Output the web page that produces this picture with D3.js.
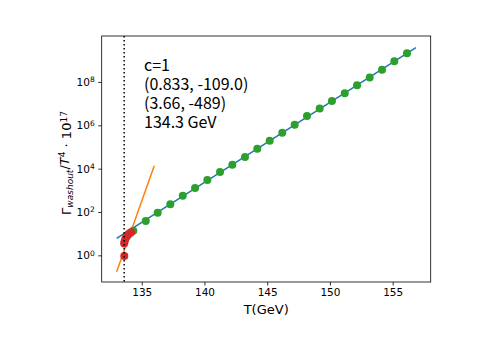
<!DOCTYPE html>
<html>
<head>
<meta charset="utf-8">
<script src="https://cdn.jsdelivr.net/npm/d3@7"></script>
<style>
  body { margin: 0; background: #fff; }
  svg { display: block; }
</style>
</head>
<body>
<div id="chart"></div>
<script>
// Green points: temperature (GeV) and log10 of Gamma/T^4 * 1e17
const greenT = [134.33, 135.32, 136.27, 137.28, 138.27, 139.25, 140.23, 141.24, 142.22, 143.23,
                144.21, 145.20, 146.20, 147.19, 148.17, 149.18, 150.16, 151.18, 152.16, 153.17,
                154.15, 155.13, 156.14];
const greenLog = [1.13, 1.58, 1.97, 2.36, 2.75, 3.11, 3.48, 3.84, 4.18, 4.54,
                  4.92, 5.29, 5.66, 6.03, 6.43, 6.77, 7.12, 7.48, 7.85, 8.20,
                  8.56, 8.95, 9.32];

// Red points near the transition
const redT = [133.61, 133.60, 133.63, 133.68, 133.74, 133.81, 133.89, 133.97, 134.06, 134.15];
const redLog = [-0.03, 0.55, 0.64, 0.73, 0.81, 0.88, 0.94, 0.99, 1.03, 1.07];

// Fit lines (end points)
const blueT = [133.0, 156.85];
const blueLog = [0.78, 9.58];
const orangeT = [133.0, 136.0];
const orangeLog = [-0.76, 4.13];

// Vertical dotted marker
const markT = 133.6;

const xTicks = [135, 140, 145, 150, 155];
const yTickExp = [0, 2, 4, 6, 8];

const notes = ["c=1", "(0.833, -109.0)", "(3.66, -489)", "134.3 GeV"];

const W = 490, H = 347;
const margin = { top: 36, right: 59.3, bottom: 65, left: 101.7 },
      width = W - margin.left - margin.right,
      height = H - margin.top - margin.bottom;

const svg = d3.select("#chart").append("svg")
    .attr("width", W)
    .attr("height", H);

const g = svg.append("g")
    .attr("transform", `translate(${margin.left},${margin.top})`);

const x = d3.scaleLinear()
    .domain([131.81, 158.03])
    .range([0, width]);

const y = d3.scaleLog()
    .domain([Math.pow(10, -1.23), Math.pow(10, 10.12)])
    .range([height, 0]);

const toPts = (ts, ls) => ts.map((t, i) => ({ t: t, v: Math.pow(10, ls[i]) }));

const line = d3.line()
    .x(d => x(d.t))
    .y(d => y(d.v));

// clip so marks stay inside the frame
g.append("clipPath").attr("id", "clip")
  .append("rect").attr("width", width).attr("height", height);

const plot = g.append("g").attr("clip-path", "url(#clip)");

plot.append("path")
    .datum(toPts(blueT, blueLog))
    .attr("fill", "none")
    .attr("stroke", "#1f77b4")
    .attr("stroke-width", 1.5)
    .attr("d", line);

plot.append("path")
    .datum(toPts(orangeT, orangeLog))
    .attr("fill", "none")
    .attr("stroke", "#ff7f0e")
    .attr("stroke-width", 1.5)
    .attr("d", line);

plot.selectAll(".green")
    .data(toPts(greenT, greenLog))
    .enter().append("circle")
    .attr("cx", d => x(d.t))
    .attr("cy", d => y(d.v))
    .attr("r", 4)
    .attr("fill", "#2ca02c");

plot.selectAll(".red")
    .data(toPts(redT, redLog))
    .enter().append("circle")
    .attr("cx", d => x(d.t))
    .attr("cy", d => y(d.v))
    .attr("r", 4)
    .attr("fill", "#d62728");

plot.append("line")
    .attr("x1", x(markT)).attr("x2", x(markT))
    .attr("y1", 0).attr("y2", height)
    .attr("stroke", "#000")
    .attr("stroke-width", 1.5)
    .attr("stroke-dasharray", "1.5,2.5");

// Axes
const xAxis = g.append("g")
    .attr("transform", `translate(0,${height})`)
    .call(d3.axisBottom(x).tickValues(xTicks).tickSize(3.5).tickPadding(3.5).tickFormat(d3.format("d")));

const yAxis = g.append("g")
    .call(d3.axisLeft(y).tickValues(yTickExp.map(e => Math.pow(10, e))).tickSize(3.5).tickPadding(3.5).tickFormat(""));

[xAxis, yAxis].forEach(a => {
    a.select(".domain").remove();
    a.selectAll("line").attr("stroke", "#000").attr("stroke-width", 0.8);
    a.selectAll("text")
        .attr("font-family", "DejaVu Sans")
        .attr("font-size", 10.5)
        .attr("fill", "#000");
});

// superscript tick labels on y
yAxis.selectAll(".tick text").each(function(d) {
    const t = d3.select(this);
    t.text(null).attr("dy", "0.32em");
    t.append("tspan").text("10");
    t.append("tspan").attr("dy", "-0.45em").attr("font-size", 7.5).text(Math.round(Math.log10(d)));
});

// Frame
g.append("rect")
    .attr("width", width)
    .attr("height", height)
    .attr("fill", "none")
    .attr("stroke", "#000")
    .attr("stroke-width", 0.8);

// Axis labels
g.append("text")
    .attr("x", width / 2)
    .attr("y", height + 32)
    .attr("text-anchor", "middle")
    .attr("font-family", "DejaVu Sans")
    .attr("font-size", 13)
    .text("T(GeV)");

const yl = g.append("text")
    .attr("transform", `translate(${66 - margin.left},${height / 2 + 4}) rotate(-90)`)
    .attr("text-anchor", "middle")
    .attr("dy", "0.35em")
    .attr("font-family", "DejaVu Sans")
    .attr("font-size", 13);
yl.append("tspan").text("\u0393");
yl.append("tspan").attr("font-style", "italic").attr("font-size", 9).attr("dy", "0.3em").text("washout");
yl.append("tspan").attr("dy", "-0.3em").text("/");
yl.append("tspan").attr("font-style", "italic").text("T");
yl.append("tspan").attr("font-size", 9).attr("dy", "-0.45em").text("4");
yl.append("tspan").attr("dy", "0.45em").text(" \u00B7 10");
yl.append("tspan").attr("font-size", 9).attr("dy", "-0.45em").text("17");

// Annotation text
g.append("g").selectAll("text")
    .data(notes)
    .enter().append("text")
    .attr("x", 144 - margin.left)
    .attr("y", (d, i) => 71 - margin.top + i * 19)
    .attr("font-family", "Noto Sans CJK JP")
    .attr("font-size", 16)
    .attr("fill", "#000")
    .text(d => d);
</script>
</body>
</html>
